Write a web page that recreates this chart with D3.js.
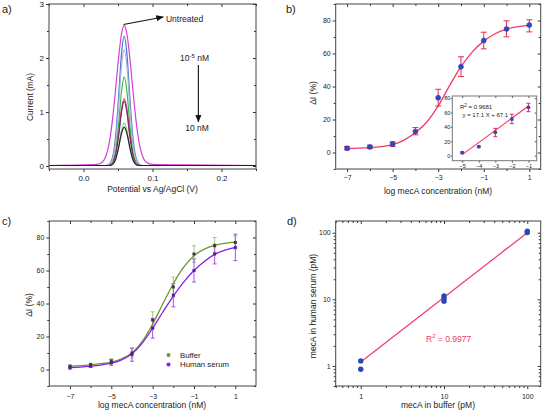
<!DOCTYPE html>
<html><head><meta charset="utf-8">
<script src="https://cdn.jsdelivr.net/npm/d3@7"></script>
<style>
body{margin:0;background:#fff}
svg{display:block}
text{font-family:"Liberation Sans",Arial,Helvetica,sans-serif;fill:#222}
</style>
</head><body>
<svg id="fig" width="543" height="412"></svg>
<script>
// ---------------- Panel a: DPV curves ----------------
const potentialV = [-0.05, 0.0, 0.02, 0.027, 0.031, 0.035, 0.039, 0.043, 0.047, 0.051, 0.055, 0.059, 0.063, 0.067, 0.071, 0.075, 0.079, 0.083, 0.087, 0.091, 0.1, 0.15, 0.25];
const curUntreated = [0.01,0.02,0.03,0.07,0.14,0.29,0.56,0.97,1.49,2.02,2.44,2.60,2.44,2.02,1.49,0.97,0.56,0.29,0.14,0.07,0.03,0.02,0.01];
const cur1e5 = [0.01,0.01,0.01,0.01,0.01,0.02,0.06,0.21,0.61,1.30,2.07,2.40,2.07,1.30,0.61,0.21,0.06,0.02,0.01,0.01,0.01,0.01,0.01];
const cur1e4 = [0.01,0.01,0.01,0.01,0.01,0.02,0.05,0.17,0.50,1.13,1.84,2.15,1.84,1.13,0.50,0.17,0.05,0.02,0.01,0.01,0.01,0.01,0.01];
const cur1e3 = [0.01,0.01,0.01,0.01,0.01,0.01,0.02,0.09,0.31,0.78,1.37,1.65,1.37,0.78,0.31,0.09,0.02,0.01,0.01,0.01,0.01,0.01,0.01];
const cur1e2 = [0.01,0.01,0.01,0.01,0.01,0.01,0.02,0.07,0.24,0.60,1.04,1.25,1.04,0.60,0.24,0.07,0.02,0.01,0.01,0.01,0.01,0.01,0.01];
const cur1e1 = [0.01,0.01,0.01,0.01,0.01,0.01,0.02,0.07,0.23,0.57,0.99,1.20,0.99,0.57,0.23,0.07,0.02,0.01,0.01,0.01,0.01,0.01,0.01];
const cur1 = [0.01,0.01,0.01,0.01,0.01,0.01,0.01,0.05,0.15,0.38,0.66,0.80,0.66,0.38,0.15,0.05,0.01,0.01,0.01,0.01,0.01,0.01,0.01];
const cur10 = [0.01,0.01,0.01,0.01,0.01,0.01,0.01,0.04,0.14,0.35,0.60,0.72,0.60,0.35,0.14,0.04,0.01,0.01,0.01,0.01,0.01,0.01,0.01];
const aTicksX = [0.0, 0.1, 0.2];
const aTicksY = [0, 1, 2, 3];

// ---------------- Panel b: calibration ----------------
const logConc = [-7, -6, -5, -4, -3, -2, -1, 0, 1];
const bMean = [2.6, 3.4, 5.2, 12.7, 33.2, 52, 67.9, 74.9, 77.2];
const bLow  = [1.6, 2.4, 3.6, 10.7, 28.2, 46, 62.8, 70.1, 73.1];
const bHigh = [3.6, 4.4, 6.5, 15.1, 38.3, 58, 72.9, 79.8, 80.4];
const fitX = [-7, -6.5, -6, -5.5, -5, -4.5, -4, -3.5, -3, -2.5, -2, -1.5, -1, -0.5, 0, 0.5, 1];
const bFitY = [2.4, 2.6, 3.0, 3.6, 4.7, 7.5, 12.1, 18.5, 28.2, 40.5, 52, 61, 67.5, 72, 74.8, 76.3, 77.1];
const insetX = [-5, -4, -3, -2, -1];
const insetMean = [4.2, 12.5, 32.5, 51, 67.3];
const insetLow  = [3.0, 11.5, 26.4, 44.5, 61.2];
const insetHigh = [5.5, 13.5, 38.0, 57.6, 72.9];
const insetFitX = [-5, -1];
const insetFitY = [1.5, 69];
const logTicksLabeled = [-7, -5, -3, -1, 1];
const logTicksAll = [-7, -6, -5, -4, -3, -2, -1, 0, 1];
const dITicks = [0, 20, 40, 60, 80];
const dIMinor = [-10, 10, 30, 50, 70, 90];

// ---------------- Panel c: buffer vs serum ----------------
const bufMean = [2, 3, 5, 10, 30, 50, 70, 75, 77];
const bufLow  = [1.2, 2.2, 3.5, 7, 25, 44, 65, 71, 73];
const bufHigh = [2.8, 3.8, 6.5, 13, 35, 56, 75, 80, 81];
const serMean = [1, 2, 4, 9, 25, 45, 60, 70, 74];
const serLow  = [0.3, 1.3, 2.5, 5, 19, 38, 53, 64, 66];
const serHigh = [1.7, 2.7, 6, 13, 31, 52, 67, 76, 82];
const bufFitY = [2.0, 2.3, 2.8, 3.5, 4.5, 6.5, 10, 17, 27.5, 40, 52, 62, 69, 73, 75.3, 76.5, 77.2];
const serFitY = [1.2, 1.5, 2.0, 2.7, 3.8, 5.8, 9.5, 16, 25, 35, 44.5, 53, 60, 65.5, 69.8, 72.3, 74];
const cLegend = ["Buffer", "Human serum"];

// ---------------- Panel d: correlation ----------------
const bufferPM = [1, 1, 10, 10, 10, 100, 100];
const serumPM  = [1.19, 0.89, 11.2, 10.4, 9.4, 105.7, 101];
const dFitX = [1, 100];
const dFitY = [1.15, 100];
const dTicks = [1, 10, 100];
const dMinorX = [0.5,0.6,0.7,0.8,0.9,2,3,4,5,6,7,8,9,20,30,40,50,60,70,80,90];
const dMinorY = [0.5,0.6,0.7,0.8,0.9,2,3,4,5,6,7,8,9,20,30,40,50,60,70,80,90];

// ---------------- styles ----------------
const aColors = ["#d43fd6", "#4a6ed6", "#a9b5d8", "#3dba3d", "#d3305c", "#7a2b82", "#86d386", "#222222"];
const RED = "#f03a66", BLUE = "#3048c8";
const GREEN = "#6b9a2e", GREEN_ERR = "#9fcb82", PURPLE = "#8c1ee6", PURPLE_ERR = "#a652ea";

const svg = d3.select("#fig");
svg.append("rect").attr("width", 543).attr("height", 412).attr("fill", "#fff");
svg.append("defs").append("marker").attr("id", "ah")
  .attr("viewBox", "0 0 10 10").attr("refX", 9).attr("refY", 5)
  .attr("markerWidth", 7).attr("markerHeight", 7).attr("orient", "auto")
  .append("path").attr("d", "M0,1 L10,5 L0,9 Z").attr("fill", "#111");

function axes(g, x, y, o) {
  const [x0, x1] = x.range(), [y0, y1] = y.range(); // y0 bottom, y1 top
  const fs = o.fs || 7;
  const style = sel => {
    sel.select(".domain").remove();
    sel.selectAll("line").attr("stroke", "#333");
    sel.selectAll("text").attr("font-size", fs).style("font-family", '"Liberation Sans",Arial,sans-serif').attr("fill", "#222");
  };
  g.append("g").attr("transform", `translate(0,${y0})`)
    .call(d3.axisBottom(x).tickValues(o.xMajor).tickSize(3).tickPadding(o.xPad || 2).tickFormat(o.xFmt)).call(style);
  if (o.xMinor) g.append("g").attr("transform", `translate(0,${y0})`)
    .call(d3.axisBottom(x).tickValues(o.xMinor).tickSize(2).tickFormat("")).call(style);
  g.append("g").attr("transform", `translate(${x0},0)`)
    .call(d3.axisLeft(y).tickValues(o.yMajor).tickSize(3).tickPadding(2).tickFormat(o.yFmt)).call(style);
  if (o.yMinor) g.append("g").attr("transform", `translate(${x0},0)`)
    .call(d3.axisLeft(y).tickValues(o.yMinor).tickSize(2).tickFormat("")).call(style);
  // mirrored inward ticks
  g.append("g").attr("transform", `translate(0,${y1})`)
    .call(d3.axisTop(x).tickValues(o.xTop || o.xMajor).tickSize(-3).tickFormat("")).call(style);
  if (o.xMinor) g.append("g").attr("transform", `translate(0,${y1})`)
    .call(d3.axisTop(x).tickValues(o.xMinor).tickSize(-2).tickFormat("")).call(style);
  g.append("g").attr("transform", `translate(${x1},0)`)
    .call(d3.axisRight(y).tickValues(o.yMajor).tickSize(-3).tickFormat("")).call(style);
  if (o.yMinor) g.append("g").attr("transform", `translate(${x1},0)`)
    .call(d3.axisRight(y).tickValues(o.yMinor).tickSize(-2).tickFormat("")).call(style);
  g.append("rect").attr("x", x0).attr("y", y1).attr("width", x1 - x0).attr("height", y0 - y1)
    .attr("fill", "none").attr("stroke", o.frame || "#444").attr("stroke-width", 1);
}
function label(txt, x, y, size) {
  svg.append("text").attr("x", x).attr("y", y).attr("font-size", size || 11).text(txt);
}
function yTitle(txt, x, yc, size) {
  svg.append("text").attr("transform", `translate(${x},${yc}) rotate(-90)`).attr("text-anchor", "middle")
    .attr("dy", "0.35em").attr("font-size", size || 8.5).text(txt);
}
function xTitle(txt, xc, y, size) {
  svg.append("text").attr("x", xc).attr("y", y).attr("text-anchor", "middle").attr("font-size", size || 8.5).text(txt);
}
function errBars(g, x, y, xs, lo, hi, color, cap) {
  const sel = g.append("g").attr("stroke", color).attr("stroke-width", 1).attr("fill", "none");
  xs.forEach((v, i) => {
    const px = x(v), a = y(lo[i]), b = y(hi[i]);
    sel.append("line").attr("x1", px).attr("x2", px).attr("y1", a).attr("y2", b);
    sel.append("line").attr("x1", px - cap).attr("x2", px + cap).attr("y1", a).attr("y2", a);
    sel.append("line").attr("x1", px - cap).attr("x2", px + cap).attr("y1", b).attr("y2", b);
  });
}

// ================= Panel a =================
{
  const x = d3.scaleLinear().domain([-0.05, 0.25]).range([49, 256]);
  const y = d3.scaleLinear().domain([-0.055, 3]).range([169, 4]);
  const g = svg.append("g");
  axes(g, x, y, {
    xMajor: aTicksX, xMinor: [-0.05, 0.05, 0.15, 0.25], yMajor: aTicksY, yMinor: [0.5, 1.5, 2.5],
    xFmt: d3.format(".1f"), yFmt: d3.format("d"), fs: 8, xPad: 3
  });
  const series = [curUntreated, cur1e5, cur1e4, cur1e3, cur1e2, cur1e1, cur1, cur10];
  const line = d3.line().x((d, i) => x(potentialV[i])).y(d => y(d)).curve(d3.curveMonotoneX);
  series.forEach((s, k) => {
    g.append("path").datum(s).attr("d", line).attr("fill", "none")
      .attr("stroke", aColors[k]).attr("stroke-width", 1.2);
  });
  // annotations
  g.append("line").attr("x1", x(0.058)).attr("y1", y(2.62)).attr("x2", x(0.1155)).attr("y2", y(2.76))
    .attr("stroke", "#111").attr("stroke-width", 1.1).attr("marker-end", "url(#ah)");
  g.append("text").attr("x", x(0.1195)).attr("y", y(2.67)).attr("font-size", 8.5).text("Untreated");
  const t = g.append("text").attr("x", x(0.14)).attr("y", y(1.94)).attr("font-size", 8.5);
  t.append("tspan").text("10");
  t.append("tspan").attr("dy", -3.5).attr("font-size", 6).text("-5");
  t.append("tspan").attr("dy", 3.5).text(" nM");
  g.append("line").attr("x1", x(0.1665)).attr("y1", y(1.87)).attr("x2", x(0.1665)).attr("y2", y(0.82))
    .attr("stroke", "#111").attr("stroke-width", 1.1).attr("marker-end", "url(#ah)");
  g.append("text").attr("x", x(0.1475)).attr("y", y(0.65)).attr("font-size", 8.5).text("10 nM");
  xTitle("Potential vs Ag/AgCl (V)", 152.5, 192);
  yTitle("Current (mA)", 30, 97, 8.3);
  label("a)", 2, 13);
}

// ================= Panel b =================
{
  const x = d3.scaleLinear().domain([-7.5, 1.5]).range([335.7, 540.7]);
  const y = d3.scaleLinear().domain([-10, 90]).range([169, 4]);
  const g = svg.append("g");
  axes(g, x, y, {
    xMajor: logTicksLabeled, xMinor: logTicksAll.filter(v => !logTicksLabeled.includes(v)),
    yMajor: dITicks, yMinor: dIMinor, xFmt: d3.format("d"), yFmt: d3.format("d"), fs: 7, xPad: 3
  });
  const line = d3.line().x((d, i) => x(fitX[i])).y(d => y(d)).curve(d3.curveMonotoneX);
  g.append("path").datum(bFitY).attr("d", line).attr("fill", "none").attr("stroke", RED).attr("stroke-width", 1.3);
  errBars(g, x, y, logConc, bLow, bHigh, "#e8284c", 3);
  g.selectAll("circle.p").data(bMean).join("circle").attr("cx", (d, i) => x(logConc[i])).attr("cy", d => y(d))
    .attr("r", 2.5).attr("fill", BLUE).attr("stroke", "#2a3a9a").attr("stroke-width", 0.5);

  // inset
  const xi = d3.scaleLinear().domain([-5.6, -0.5]).range([452.3, 536.7]);
  const yi = d3.scaleLinear().domain([-7, 83]).range([160.7, 96]);
  const gi = svg.append("g");
  gi.append("rect").attr("x", 452.3).attr("y", 96).attr("width", 84.4).attr("height", 64.7).attr("fill", "#fff");
  const st = sel => {
    sel.select(".domain").remove();
    sel.selectAll("line").attr("stroke", "#555");
    sel.selectAll("text").attr("font-size", 5.5).attr("fill", "#333");
  };
  gi.append("g").attr("transform", "translate(0,160.7)").call(d3.axisBottom(xi).tickValues(insetX).tickSize(2).tickPadding(1).tickFormat(d3.format("d"))).call(st);
  gi.append("g").attr("transform", "translate(452.3,0)").call(d3.axisLeft(yi).tickValues(dITicks).tickSize(1.5).tickPadding(0.5).tickFormat(d3.format("d"))).call(st);
  gi.append("g").attr("transform", "translate(0,96)").call(d3.axisTop(xi).tickValues(insetX).tickSize(-2).tickFormat("")).call(st);
  gi.append("g").attr("transform", "translate(536.7,0)").call(d3.axisRight(yi).tickValues(dITicks).tickSize(-2).tickFormat("")).call(st);
  gi.append("rect").attr("x", 452.3).attr("y", 96).attr("width", 84.4).attr("height", 64.7)
    .attr("fill", "none").attr("stroke", "#777").attr("stroke-width", 1);
  gi.append("line").attr("x1", xi(insetFitX[0])).attr("y1", yi(insetFitY[0])).attr("x2", xi(insetFitX[1])).attr("y2", yi(insetFitY[1]))
    .attr("stroke", RED).attr("stroke-width", 1.1);
  errBars(gi, xi, yi, insetX, insetLow, insetHigh, "#e8284c", 2);
  gi.selectAll("circle").data(insetMean).join("circle").attr("cx", (d, i) => xi(insetX[i])).attr("cy", d => yi(d))
    .attr("r", 1.9).attr("fill", BLUE);
  const r2 = gi.append("text").attr("x", 460).attr("y", 109).attr("font-size", 6).attr("fill", "#333");
  r2.append("tspan").text("R");
  r2.append("tspan").attr("dy", -2.5).attr("font-size", 4.5).text("2");
  r2.append("tspan").attr("dy", 2.5).text(" = 0.9681");
  gi.append("text").attr("x", 462.5).attr("y", 116.5).attr("font-size", 6).attr("fill", "#333").text("y = 17.1 X + 67.1");

  xTitle("log mecA concentration (nM)", 438, 194);
  yTitle("\u0394I (%)", 313, 93);
  label("b)", 286, 13);
}

// ================= Panel c =================
{
  const x = d3.scaleLinear().domain([-8, 2]).range([49.3, 256]);
  const y = d3.scaleLinear().domain([-10, 90]).range([386, 221]);
  const g = svg.append("g");
  axes(g, x, y, {
    xMajor: logTicksLabeled, xMinor: logTicksAll.filter(v => !logTicksLabeled.includes(v)),
    yMajor: dITicks, yMinor: dIMinor, xFmt: d3.format("d"), yFmt: d3.format("d"), fs: 7, xPad: 5
  });
  const line = d3.line().x((d, i) => x(fitX[i])).y(d => y(d)).curve(d3.curveMonotoneX);
  errBars(g, x, y, logConc, bufLow, bufHigh, GREEN_ERR, 2);
  errBars(g, x, y, logConc, serLow, serHigh, PURPLE_ERR, 2);
  g.append("path").datum(bufFitY).attr("d", line).attr("fill", "none").attr("stroke", GREEN).attr("stroke-width", 1.3);
  g.append("path").datum(serFitY).attr("d", line).attr("fill", "none").attr("stroke", PURPLE).attr("stroke-width", 1.3);
  g.selectAll("rect.b").data(bufMean).join("rect").attr("class", "b")
    .attr("x", (d, i) => x(logConc[i]) - 1.5).attr("y", d => y(d) - 1.5).attr("width", 3).attr("height", 3).attr("fill", "#3a3a3a");
  g.selectAll("rect.s").data(serMean).join("rect").attr("class", "s")
    .attr("x", (d, i) => x(logConc[i]) - 1.5).attr("y", d => y(d) - 1.5).attr("width", 3).attr("height", 3).attr("fill", "#5a1a9c");
  // legend
  const legColors = [GREEN, PURPLE];
  cLegend.forEach((name, i) => {
    g.append("circle").attr("cx", 168.5).attr("cy", 355 + i * 9.5).attr("r", 2).attr("fill", legColors[i]);
    g.append("text").attr("x", 180).attr("y", 357.8 + i * 9.5).attr("font-size", 7.8).text(name);
  });
  xTitle("log mecA concentration (nM)", 152, 408);
  yTitle("\u0394I (%)", 29, 305);
  label("c)", 2, 225);
}

// ================= Panel d =================
{
  const x = d3.scaleLog().domain([0.5, 145]).range([335.7, 540.7]);
  const y = d3.scaleLog().domain([0.5, 150]).range([386, 221]);
  const g = svg.append("g");
  axes(g, x, y, {
    xMajor: dTicks, xMinor: dMinorX, yMajor: dTicks, yMinor: dMinorY,
    xFmt: d3.format("d"), yFmt: d3.format("d"), fs: 7, xPad: 5
  });
  g.append("line").attr("x1", x(dFitX[0])).attr("y1", y(dFitY[0])).attr("x2", x(dFitX[1])).attr("y2", y(dFitY[1]))
    .attr("stroke", RED).attr("stroke-width", 1.2);
  g.selectAll("circle").data(serumPM).join("circle").attr("cx", (d, i) => x(bufferPM[i])).attr("cy", d => y(d))
    .attr("r", 2.7).attr("fill", "#2c46b8");
  const t = g.append("text").attr("x", 426).attr("y", 341.5).attr("font-size", 8.5).style("fill", RED);
  t.append("tspan").text("R");
  t.append("tspan").attr("dy", -3.5).attr("font-size", 6).text("2");
  t.append("tspan").attr("dy", 3.5).text(" = 0.9977");
  xTitle("mecA in buffer (pM)", 438, 408);
  yTitle("mecA in human serum (pM)", 313, 306);
  label("d)", 287, 225);
}
</script>
</body></html>
